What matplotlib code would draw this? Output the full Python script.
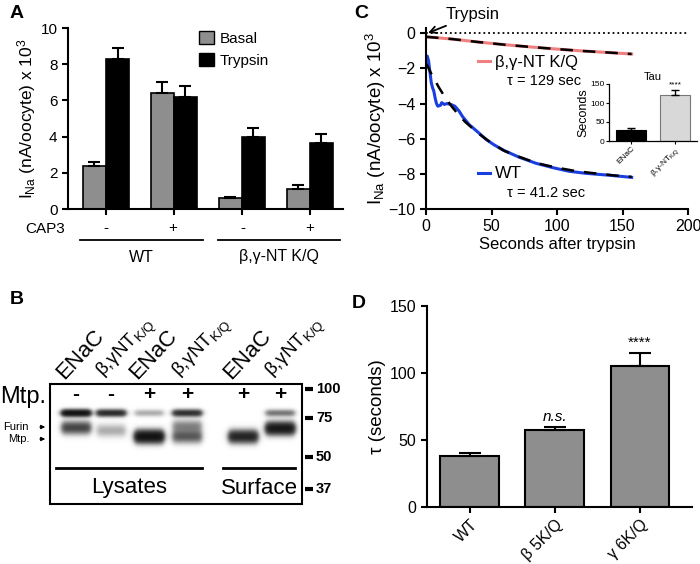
import numpy as np
import matplotlib
matplotlib.use("Agg")
import matplotlib.pyplot as plt
from matplotlib.patches import Patch, Rectangle

plt.rcParams['font.family'] = ['Liberation Sans', 'DejaVu Sans']
plt.rcParams['mathtext.fontset'] = 'custom'
plt.rcParams['mathtext.rm'] = 'Liberation Sans'
plt.rcParams['mathtext.default'] = 'regular'
plt.rcParams['axes.linewidth'] = 1.5
plt.rcParams['xtick.major.width'] = 1.5
plt.rcParams['ytick.major.width'] = 1.5

# ---- panel A data
cap3 = ['-', '+', '-', '+']
basal = [2.4, 6.4, 0.6, 1.1]
basal_err = [0.22, 0.6, 0.07, 0.22]
trypsin = [8.3, 6.2, 4.0, 3.65]
trypsin_err = [0.6, 0.6, 0.45, 0.5]

# ---- panel B data (western blot)
lane_names = ['ENaC', 'β,γNT$_{K/Q}$', 'ENaC', 'β,γNT$_{K/Q}$', 'ENaC', 'β,γNT$_{K/Q}$']
mtp = ['-', '-', '+', '+', '+', '+']
marker_kda = [100, 75, 50, 37]
band_lane = [0, 0, 1, 1, 2, 2, 3, 3, 3, 4, 5, 5]
band_kda = [79, 68, 79, 66, 79, 62, 79, 69, 62, 62, 79, 67.5]
band_int = [1.0, 0.5, 0.7, 0.15, 0.15, 1.0, 0.65, 0.25, 0.4, 0.75, 0.3, 0.9]

# ---- panel C data
wt_t = [0, 1, 2, 3, 4, 5, 6, 7, 8, 9, 11, 12, 14, 16, 19, 22, 25, 28, 33, 40, 46, 52, 59, 65, 71, 84, 97, 109, 122, 140, 157]
wt_y = [-1.35, -1.3, -1.6, -2.2, -2.8, -3.1, -3.3, -3.7, -4.0, -4.15, -4.1, -3.95, -4.05, -4.0, -4.05, -4.15, -4.4, -4.75, -5.2, -5.65, -6.05, -6.35, -6.65, -6.85, -7.05, -7.4, -7.65, -7.85, -7.97, -8.08, -8.2]
wt_fit_t = [0, 5, 10, 15, 20, 25, 30, 40, 50, 60, 70, 85, 100, 115, 130, 145, 157]
wt_fit_y = [-1.7, -2.45, -3.1, -3.7, -4.2, -4.65, -5.05, -5.7, -6.25, -6.7, -7.0, -7.4, -7.65, -7.85, -7.98, -8.1, -8.17]
kq_t = [0, 20, 40, 60, 80, 100, 120, 140, 157]
kq_y = [-0.2, -0.33, -0.5, -0.65, -0.78, -0.9, -1.01, -1.1, -1.18]
tau_groups = ['ENaC', 'β,γ-NT$_{K/Q}$']
tau_vals = [30, 120]
tau_err = [3, 15]

# ---- panel D data
d_groups = ['WT', 'β 5K/Q', 'γ 6K/Q']
d_vals = [38, 57.5, 105]
d_err = [2.0, 2.5, 10]
d_sig = ['', 'n.s.', '****']

W, H = 700, 564
fig = plt.figure(figsize=(7, 5.64), dpi=100)


def px_axes(x0, y0, x1, y1):
    ax = fig.add_axes([x0 / W, 1 - y1 / H, (x1 - x0) / W, (y1 - y0) / H])
    ax.set_facecolor('none')
    return ax


gray = '#8e8e8e'

# ================= A
axA = px_axes(68, 28, 343, 209)
x = np.arange(len(basal))
w = 0.34
axA.bar(x - w / 2, basal, w, color=gray, edgecolor='black', linewidth=1.2,
        yerr=[np.zeros(4), basal_err], capsize=4.3, error_kw=dict(elinewidth=1.5, capthick=1.5))
axA.bar(x + w / 2, trypsin, w, color='black', edgecolor='black', linewidth=1.2,
        yerr=[np.zeros(4), trypsin_err], capsize=4.3, error_kw=dict(elinewidth=1.5, capthick=1.5))
axA.set_xlim(-0.56, 3.49)
axA.set_ylim(0, 10)
axA.set_yticks([0, 2, 4, 6, 8, 10])
axA.set_xticks(x)
axA.set_xticklabels([])
axA.tick_params(labelsize=11, length=4)
for s in ['top', 'right']:
    axA.spines[s].set_visible(False)
axA.set_ylabel('I$_{Na}$ (nA/oocyte) x 10$^3$', fontsize=12.5, labelpad=2)
axA.legend(handles=[Patch(facecolor=gray, edgecolor='black', label='Basal'),
                    Patch(facecolor='black', edgecolor='black', label='Trypsin')],
           loc='upper left', bbox_to_anchor=(0.475, 0.985), frameon=False, fontsize=11,
           handlelength=1.0, handleheight=1.0, handletextpad=0.4, borderaxespad=0,
           borderpad=0, labelspacing=0.45)

# ================= C
axC = px_axes(426, 28, 688, 209)
axC.axhline(0, ls=':', color='black', lw=1.3)
axC.plot(kq_t, kq_y, color='#f07f7f', lw=2.2)
axC.plot(kq_t, kq_y, color='black', lw=1.8, dashes=(5, 4))
axC.plot(wt_t, wt_y, color='#1a3fe0', lw=2.2)
axC.plot(wt_fit_t, wt_fit_y, color='black', lw=1.8, dashes=(5, 4))
axC.set_xlim(0, 200)
axC.set_ylim(-10, 0.3)
axC.set_yticks([0, -2, -4, -6, -8, -10])
axC.set_xticks([0, 50, 100, 150, 200])
axC.tick_params(labelsize=11.5, length=4)
for s in ['top', 'right']:
    axC.spines[s].set_visible(False)
axC.set_ylabel('I$_{Na}$ (nA/oocyte) x 10$^3$', fontsize=13.5, labelpad=0)
axC.set_xlabel('Seconds after trypsin', fontsize=12, labelpad=2)

# inset
axI = px_axes(609, 84, 697, 141)
axI.bar([0, 1], tau_vals, 0.68, color=['black', '#d8d8d8'], edgecolor=['black', '#777777'],
        linewidth=0.8, yerr=[[0, 0], tau_err], capsize=3, error_kw=dict(elinewidth=1, capthick=1))
axI.set_xlim(-0.5, 1.5)
axI.set_ylim(0, 150)
axI.set_yticks([0, 50, 100, 150])
axI.set_xticks([0, 1])
axI.set_xticklabels(tau_groups, rotation=45, ha='right', rotation_mode='anchor', fontsize=6.5)
axI.tick_params(labelsize=6, length=2, width=0.8, pad=1)
for s in ['top', 'right']:
    axI.spines[s].set_visible(False)
for s in ['left', 'bottom']:
    axI.spines[s].set_linewidth(0.9)
axI.set_ylabel('Seconds', fontsize=9, labelpad=1)
axI.set_title('Tau', fontsize=8, pad=3)
axI.text(1, tau_vals[1] + tau_err[1] + 4, '****', ha='center', va='bottom', fontsize=6)

# ================= D
axD = px_axes(427, 306, 692, 507)
xd = np.arange(len(d_vals))
axD.bar(xd, d_vals, 0.69, color=gray, edgecolor='black', linewidth=1.5,
        yerr=[np.zeros(3), d_err], capsize=8, error_kw=dict(elinewidth=1.5, capthick=1.5))
for i in range(3):
    axD.text(xd[i], d_vals[i] + d_err[i] + 2, d_sig[i], ha='center', va='bottom', fontsize=11,
             style='italic' if d_sig[i] == 'n.s.' else 'normal')
axD.set_xlim(-0.5, 2.61)
axD.set_ylim(0, 150)
axD.set_yticks([0, 50, 100, 150])
axD.set_xticks(xd)
axD.set_xticklabels(d_groups, rotation=45, ha='right', rotation_mode='anchor', fontsize=11)
axD.tick_params(labelsize=11.5, length=4)
axD.tick_params(axis='x', pad=3)
for s in ['top', 'right']:
    axD.spines[s].set_visible(False)
axD.set_ylabel('τ (seconds)', fontsize=13.5, labelpad=3)

# ================= overlay for annotations and the blot
ov = fig.add_axes([0, 0, 1, 1])
ov.axis('off')
ov.patch.set_visible(False)

ov.text(10, 13, 'A', fontsize=14, fontweight='bold', va='center')
ov.text(354, 13, 'C', fontsize=14, fontweight='bold', va='center')
ov.text(10, 300, 'B', fontsize=14, fontweight='bold', va='center')
ov.text(352, 303, 'D', fontsize=14, fontweight='bold', va='center')

# A: CAP3 row
gx = [106, 173, 243, 310]
ov.text(25, 229, 'CAP3', fontsize=11, va='center')
for xx, s in zip(gx, cap3):
    ov.text(xx, 228, s, fontsize=11, ha='center', va='center')
ov.plot([80, 203], [240, 240], color='black', lw=1.3)
ov.plot([218, 340], [240, 240], color='black', lw=1.3)
ov.text(141, 257, 'WT', fontsize=11.5, ha='center', va='center')
ov.text(279, 257, 'β,γ-NT K/Q', fontsize=11.5, ha='center', va='center')

# C annotations
ov.annotate('Trypsin', xy=(428, 33), xytext=(446, 15), fontsize=12, ha='left', va='center',
            arrowprops=dict(arrowstyle='->', lw=1.3, color='black', shrinkA=1, shrinkB=0))
ov.plot([478, 490], [61, 61], color='#f07f7f', lw=2.2)
ov.text(495, 62, 'β,γ-NT K/Q', fontsize=12, va='center')
ov.text(507, 81, 'τ = 129 sec', fontsize=10.5, va='center')
ov.plot([478, 490], [173, 173], color='#1a3fe0', lw=2.2)
ov.text(495, 174, 'WT', fontsize=12.5, va='center')
ov.text(507, 193, 'τ = 41.2 sec', fontsize=10.5, va='center')

# B: western blot
lane_x = [76, 111, 149, 187, 243, 280]
marker_y = [389, 418, 457, 489]
bx0, bx1, by0, by1 = 50, 302, 384, 504


def kda_to_y(k):
    return np.interp(-np.log(k), -np.log(marker_kda), marker_y)


gxx, gyy = np.meshgrid(np.arange(bx0, bx1, 0.5), np.arange(by0, by1, 0.5))
dens = np.zeros_like(gxx)
for ln, k, a in zip(band_lane, band_kda, band_int):
    cx = lane_x[ln]
    cy = kda_to_y(k)
    sig = 2.3 if k > 75 else 4.2
    horiz = 1 / (1 + np.exp((np.abs(gxx - cx) - 14) / 1.5))
    dens += a * horiz * np.exp(-0.5 * ((gyy - cy) / sig) ** 2)
img = 1 - np.exp(-2.6 * dens)
ov.imshow(img, cmap='gray_r', vmin=0, vmax=1, extent=[bx0, bx1, by1, by0],
          aspect='auto', interpolation='bilinear')
ov.add_patch(Rectangle((bx0, by0), bx1 - bx0, by1 - by0, fill=False, lw=1.5, ec='black'))
ov.set_xlim(0, W)
ov.set_ylim(H, 0)

for i, (xx, nm) in enumerate(zip(lane_x, lane_names)):
    if nm == 'ENaC':
        ov.text(xx - 12, 380, nm, fontsize=16, rotation=47, ha='left', va='baseline',
                rotation_mode='anchor')
    else:
        ov.text(xx - 8, 377, nm, fontsize=13.5, rotation=46, ha='left', va='baseline',
                rotation_mode='anchor')
ov.text(0, 397, 'Mtp.', fontsize=17, va='center')
for xx, s in zip(lane_x, mtp):
    ov.text(xx, 395, s, fontsize=15, ha='center', va='center', fontweight='bold')
for k, yy in zip(marker_kda, marker_y):
    ov.plot([305, 313], [yy, yy], color='black', lw=3, solid_capstyle='butt')
    ov.text(316, yy, str(k), fontsize=10.5, fontweight='bold', va='center')
ov.text(3, 427, 'Furin', fontsize=8, va='center')
ov.annotate('', xy=(48, 427), xytext=(37, 427),
            arrowprops=dict(arrowstyle='-|>', lw=0.8, color='black', mutation_scale=6))
ov.text(8, 439, 'Mtp.', fontsize=8, va='center')
ov.annotate('', xy=(48, 439), xytext=(37, 439),
            arrowprops=dict(arrowstyle='-|>', lw=0.8, color='black', mutation_scale=6))
ov.plot([56, 202], [468, 468], color='black', lw=2)
ov.plot([223, 295], [468, 468], color='black', lw=2)
ov.text(129, 488, 'Lysates', fontsize=16, ha='center', va='center')
ov.text(259, 488, 'Surface', fontsize=16, ha='center', va='center')

fig.savefig('out.png', dpi=100)
